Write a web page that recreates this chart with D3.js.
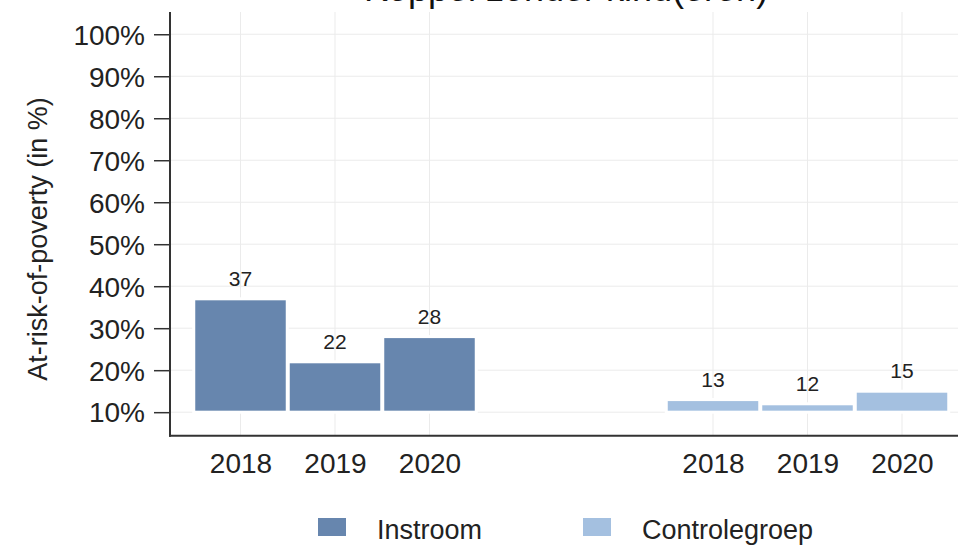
<!DOCTYPE html>
<html>
<head>
<meta charset="utf-8">
<script src="https://cdn.jsdelivr.net/npm/d3@7"></script>
<style>
  html, body { margin: 0; padding: 0; background: #fff; }
  svg { display: block; font-family: "Liberation Sans", Arial, sans-serif; }
</style>
</head>
<body>
<svg id="chart" width="958" height="546"></svg>
<script>
// ---- data ----
const title = "Koppel zonder kind(eren)";
const yTitle = "At-risk-of-poverty (in %)";
const groups = ["Instroom", "Controlegroep"];
const years = ["2018", "2019", "2020"];
const instroomValues = [37, 22, 28];
const controleValues = [13, 12, 15];
const yTickValues = [10, 20, 30, 40, 50, 60, 70, 80, 90, 100];
const colors = ["#6786ae", "#a4c0e0"];

// ---- layout ----
const W = 958, H = 546;
const axisX = 170, axisTop = 12, axisBottom = 435.7;
const svg = d3.select("#chart");

const slots = [
  ...years.map(y => groups[0] + "|" + y),
  "gap1", "gap2",
  ...years.map(y => groups[1] + "|" + y)
];
const x = d3.scalePoint().domain(slots).range([240.5, 902]);
const step = x.step();
const y = d3.scaleLinear().domain([4.4, 105.3]).range([axisBottom, axisTop]);

const data = [];
years.forEach((yr, i) => data.push({ slot: groups[0] + "|" + yr, year: yr, value: instroomValues[i], g: 0 }));
years.forEach((yr, i) => data.push({ slot: groups[1] + "|" + yr, year: yr, value: controleValues[i], g: 1 }));

// gridlines
const grid = svg.append("g");
grid.selectAll("line.h").data(yTickValues).join("line")
  .attr("x1", axisX).attr("x2", W)
  .attr("y1", d => y(d)).attr("y2", d => y(d))
  .attr("stroke", "#ebebeb").attr("stroke-width", 1);
grid.selectAll("line.v").data(data).join("line")
  .attr("x1", d => x(d.slot)).attr("x2", d => x(d.slot))
  .attr("y1", axisTop).attr("y2", axisBottom)
  .attr("stroke", "#ebebeb").attr("stroke-width", 1);

// bars
const base = yTickValues[0];
svg.append("g").selectAll("rect").data(data).join("rect")
  .attr("x", d => x(d.slot) - (step - 1) / 2)
  .attr("width", step - 1)
  .attr("y", d => y(d.value))
  .attr("height", d => y(base) - y(d.value))
  .attr("fill", d => colors[d.g])
  .attr("stroke", "#fff").attr("stroke-width", 3);

// value labels
svg.append("g").selectAll("text").data(data).join("text")
  .attr("x", d => x(d.slot))
  .attr("y", d => y(d.value) - 13)
  .attr("text-anchor", "middle")
  .attr("font-size", 21).attr("fill", "#222")
  .text(d => d.value);

// y axis
const yAxis = svg.append("g").attr("transform", `translate(${axisX},0)`)
  .call(d3.axisLeft(y).tickValues(yTickValues).tickSize(16).tickPadding(9)
    .tickFormat(d => d + "%"));
yAxis.select(".domain").remove();
yAxis.selectAll(".tick line").attr("stroke", "#333").attr("stroke-width", 1.5);
yAxis.selectAll(".tick text").attr("font-size", 28).attr("fill", "#222")
  .attr("font-family", "Liberation Sans, Arial, sans-serif").attr("dy", "0.35em");
svg.append("line").attr("x1", axisX).attr("x2", axisX)
  .attr("y1", axisTop).attr("y2", axisBottom + 1)
  .attr("stroke", "#333").attr("stroke-width", 2);

// x axis
const xAxis = svg.append("g").attr("transform", `translate(0,${axisBottom})`)
  .call(d3.axisBottom(x).tickValues(data.map(d => d.slot)).tickSize(0).tickPadding(37)
    .tickFormat(s => s.split("|")[1]));
xAxis.select(".domain").remove();
xAxis.selectAll(".tick text").attr("font-size", 28).attr("fill", "#222")
  .attr("font-family", "Liberation Sans, Arial, sans-serif").attr("dy", "0");
svg.append("line").attr("x1", axisX - 1).attr("x2", W)
  .attr("y1", axisBottom).attr("y2", axisBottom)
  .attr("stroke", "#333").attr("stroke-width", 2);

// y axis title
svg.append("text")
  .attr("transform", `translate(47,239) rotate(-90)`)
  .attr("text-anchor", "middle")
  .attr("font-size", 27).attr("fill", "#222")
  .text(yTitle);

// title (partly cut off at top, as in the reference)
svg.append("text")
  .attr("x", 566).attr("y", 1)
  .attr("text-anchor", "middle")
  .attr("font-size", 36).attr("fill", "#111")
  .text(title);

// legend
const legendX = [318, 583];
const lg = svg.append("g").selectAll("g").data(groups).join("g")
  .attr("transform", (d, i) => `translate(${legendX[i]},518)`);
lg.append("rect").attr("width", 28).attr("height", 18).attr("fill", (d, i) => colors[i]);
lg.append("text").attr("x", 59).attr("y", 21)
  .attr("font-size", 27).attr("fill", "#222")
  .text(d => d);
</script>
</body>
</html>
